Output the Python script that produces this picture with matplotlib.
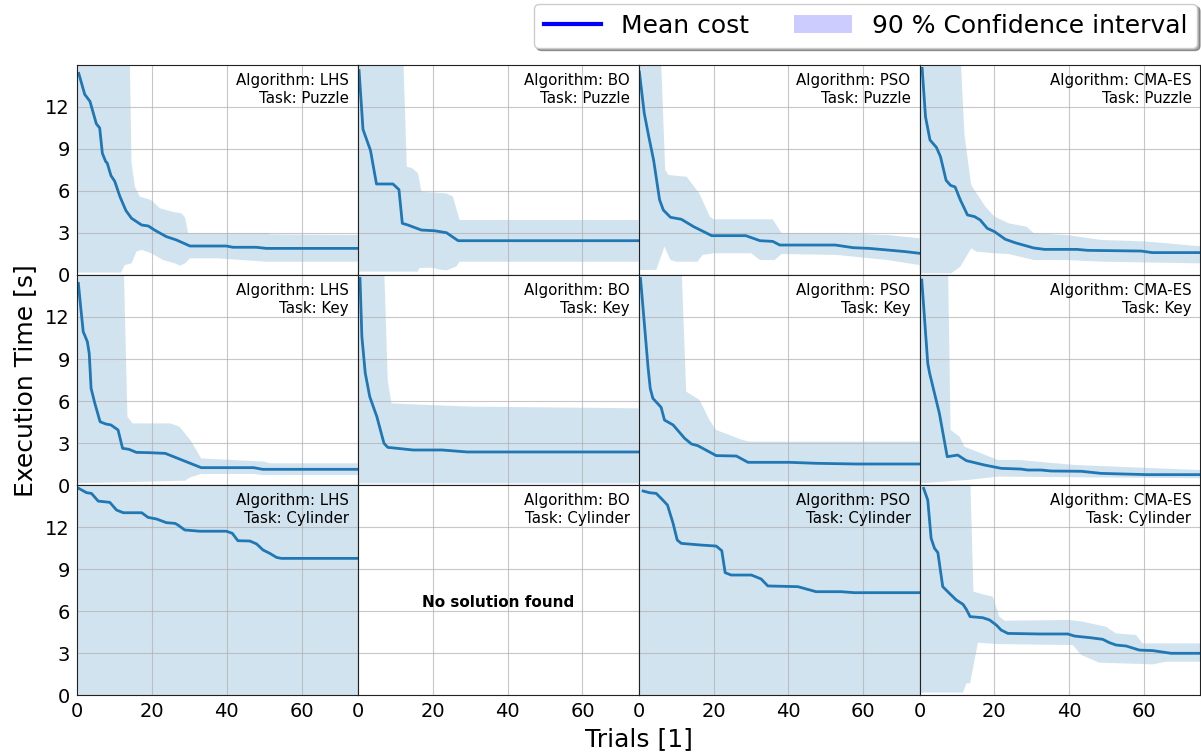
import matplotlib
matplotlib.use("Agg")
import matplotlib.pyplot as plt
from matplotlib.lines import Line2D
from matplotlib.patches import Patch
import numpy as np

# grid layout
algorithms = ["LHS", "BO", "PSO", "CMA-ES"]
tasks = ["Puzzle", "Key", "Cylinder"]
y_ticks = [0, 3, 6, 9, 12]
x_ticks = [0, 20, 40, 60]

# (trial, seconds); values above 15 are off the chart
lhs_puzzle_mean = [(0.5, 14.4), (2.1, 12.9), (3.5, 12.4), (5.2, 10.8), (6.1, 10.5), (6.8, 8.7), (7.7, 8.1),
                   (8.1, 8.0), (9.1, 7.1), (10.1, 6.7), (11.5, 5.6), (13.1, 4.6), (14.6, 4.05), (17.3, 3.57),
                   (19.1, 3.5), (20.8, 3.2), (23.9, 2.74), (26.6, 2.5), (30.2, 2.07), (39.9, 2.07),
                   (41.7, 1.98), (47.9, 1.98), (50.6, 1.9), (75, 1.9)]
lhs_puzzle_upper = [(0, 16), (14.1, 16), (14.6, 8.0), (15.5, 6.3), (16.8, 5.6), (19.8, 5.36), (22.2, 4.76),
                    (25.8, 4.5), (28, 4.4), (28.9, 4.1), (29.7, 2.98), (50.6, 3.0), (51.5, 2.9), (75, 2.86)]
lhs_puzzle_lower = [(0, 0.17), (11.8, 0.17), (12.8, 0.71), (14.6, 0.83), (15.9, 1.67), (17.3, 1.79),
                    (19.9, 1.55), (23, 1.07), (26.2, 0.83), (27.5, 0.67), (28.9, 0.83), (30.2, 1.19),
                    (37.4, 1.19), (50.6, 0.95), (75, 0.95)]

bo_puzzle_mean = [(0.35, 14.6), (1.4, 10.4), (3.4, 8.9), (5.0, 6.5), (9.4, 6.5), (11.0, 6.1), (11.9, 3.69),
                  (13.4, 3.57), (17.0, 3.21), (20.5, 3.16), (23.7, 3.02), (26.8, 2.45), (75, 2.45)]
bo_puzzle_upper = [(0, 16), (12.1, 16), (13.1, 7.74), (14.6, 7.62), (16.1, 7.26), (17.0, 5.95), (23.7, 5.83),
                   (25.4, 5.6), (27.2, 3.93), (75, 3.93)]
bo_puzzle_lower = [(0, 0.24), (16.0, 0.24), (16.5, 0.5), (20.1, 0.52), (21.5, 0.4), (23.7, 0.33),
                   (26.3, 0.6), (27.2, 0.95), (75, 0.95)]

pso_puzzle_mean = [(0.2, 14.5), (1.5, 11.55), (2.8, 9.76), (4.0, 8.2), (5.6, 5.36), (6.6, 4.64), (8.5, 4.12),
                   (11.4, 3.98), (14.7, 3.45), (19.5, 2.81), (28.6, 2.81), (32.4, 2.45), (35.8, 2.4),
                   (37.7, 2.14), (52.5, 2.14), (57.3, 1.95), (61.6, 1.9), (71.2, 1.67), (75, 1.55)]
pso_puzzle_upper = [(0, 16), (5.9, 16), (7.1, 7.5), (8.0, 7.14), (12.8, 7.02), (16.2, 5.83), (19.0, 4.17),
                    (20, 3.98), (35.8, 3.98), (38.2, 2.98), (53, 2.98), (66.4, 2.86), (75, 2.62)]
pso_puzzle_lower = [(0, 0.36), (4.7, 0.36), (6.9, 2.02), (8.5, 1.07), (10, 0.95), (15.7, 0.95), (17.1, 1.43),
                    (20, 1.55), (30.1, 1.55), (32.4, 1.07), (36.3, 1.07), (38.2, 1.5), (53, 1.43),
                    (66.4, 1.07), (75, 0.71)]

cma_puzzle_mean = [(0.7, 14.76), (1.6, 11.3), (2.8, 9.64), (4.5, 9.12), (5.6, 8.45), (7.1, 6.76), (8.3, 6.4),
                   (9.5, 6.29), (10.9, 5.36), (12.8, 4.29), (14.7, 4.17), (16.2, 3.93), (18.1, 3.33),
                   (20, 3.1), (22.9, 2.55), (25.7, 2.29), (30.5, 1.93), (33.4, 1.83), (42, 1.83),
                   (44.9, 1.76), (59.2, 1.71), (62.1, 1.6), (75, 1.6)]
cma_puzzle_upper = [(0, 16), (10.9, 16), (12.0, 10), (13.8, 6.43), (17.6, 4.88), (20, 4.17), (23.8, 3.69),
                    (28.6, 3.45), (30.5, 2.98), (39.1, 2.86), (48.7, 2.5), (60.2, 2.4), (75, 2.05)]
cma_puzzle_lower = [(0, 0.12), (8.5, 0.12), (10.9, 0.6), (13.8, 1.9), (15.2, 1.67), (20, 1.55), (23.8, 1.5),
                    (30.5, 1.07), (39.1, 1.07), (48.7, 0.95), (75, 0.83)]

lhs_key_mean = [(0.4, 14.4), (1.1, 12.5), (1.7, 10.95), (2.8, 10.24), (3.3, 9.4), (3.8, 6.9), (4.8, 5.83),
                (6.2, 4.52), (7.7, 4.36), (9.1, 4.29), (11.0, 3.93), (12.2, 2.62), (13.9, 2.55), (15.9, 2.33),
                (19.2, 2.31), (23.6, 2.26), (29.8, 1.6), (33.2, 1.24), (47.2, 1.24), (49.6, 1.12), (75, 1.12)]
lhs_key_upper = [(0, 16), (12.5, 16), (13.5, 4.88), (14.9, 4.4), (25, 4.4), (27.4, 4.17), (30.3, 3.21),
                 (33.2, 1.9), (50, 1.67), (51.5, 1.55), (75, 1.55)]
lhs_key_lower = [(0, 0.12), (19.7, 0.24), (28.9, 0.31), (30.3, 0.55), (33.2, 0.79), (47.2, 0.79),
                 (49.6, 0.71), (75, 0.71)]

bo_key_mean = [(0.6, 14.76), (1.1, 10.6), (2.0, 8.0), (3.2, 6.31), (5.1, 4.88), (7.0, 2.98), (8.0, 2.69),
               (14.8, 2.5), (22.5, 2.5), (29.2, 2.36), (75, 2.36)]
bo_key_upper = [(0, 16), (7.0, 16), (8.0, 7.5), (9.0, 5.83), (19.6, 5.71), (30.2, 5.6), (75, 5.48)]
bo_key_lower = [(0, 0.12), (75, 0.12)]

pso_key_mean = [(0.5, 14.76), (1.6, 11.3), (2.5, 8.45), (3.1, 6.9), (3.8, 6.19), (6.0, 5.55), (6.9, 4.64),
                (9.2, 4.29), (12.3, 3.33), (14.1, 2.93), (15.8, 2.81), (20.7, 2.1), (26.1, 2.07),
                (29.2, 1.62), (40.3, 1.62), (47.4, 1.55), (58.1, 1.5), (75, 1.5)]
pso_key_upper = [(0, 16), (11.4, 16), (12.7, 6.67), (16.3, 6.07), (18.9, 4.64), (20.7, 3.93), (27.8, 3.21),
                 (29.6, 3.1), (75, 3.1)]
pso_key_lower = [(0, 0.25), (75, 0.25)]

cma_key_mean = [(0.6, 14.64), (2.2, 8.69), (2.7, 7.98), (5.3, 5.12), (7.4, 2.02), (10.2, 2.14), (12.5, 1.74),
                (17.3, 1.43), (21.8, 1.19), (27.1, 1.14), (28.9, 1.07), (32.5, 1.07), (35.1, 1.0),
                (43.2, 0.98), (48.5, 0.83), (60.9, 0.74), (75, 0.74)]
cma_key_upper = [(0, 16), (7.6, 16), (8.3, 3.93), (10.7, 3.45), (12, 2.74), (16.5, 2.26), (20.9, 1.79),
                 (26.6, 1.79), (41.4, 1.43), (75, 1.07)]
cma_key_lower = [(0, 0.12), (12.9, 0.36), (20.9, 0.6), (75, 0.48)]

lhs_cyl_mean = [(0.5, 14.76), (2.6, 14.45), (3.9, 14.4), (5.7, 13.85), (8.8, 13.76), (10.6, 13.21),
                (12.4, 13.02), (17.3, 13.02), (19.0, 12.69), (21.3, 12.57), (23.9, 12.31), (26.2, 12.26),
                (27.0, 12.14), (28.8, 11.79), (32.8, 11.7), (39.9, 11.7), (41.5, 11.55), (43.0, 11.02),
                (46.2, 11.0), (48.0, 10.79), (49.7, 10.36), (51.5, 10.12), (53.3, 9.83), (54.6, 9.76),
                (75, 9.76)]
lhs_cyl_upper = [(0, 16), (75, 16)]
lhs_cyl_lower = [(0, 0), (75, 0)]

pso_cyl_mean = [(1.2, 14.57), (2.9, 14.45), (4.7, 14.4), (6.0, 14.05), (7.7, 13.57), (9.2, 12.26),
                (10.3, 11.07), (11.4, 10.83), (16.7, 10.71), (20.7, 10.64), (22.2, 10.31), (23.1, 8.74),
                (24.7, 8.57), (30.1, 8.57), (32.7, 8.29), (34.5, 7.79), (42.5, 7.74), (47.4, 7.38),
                (54.1, 7.38), (57.6, 7.31), (75, 7.31)]
pso_cyl_upper = [(0, 16), (75, 16)]
pso_cyl_lower = [(0, 0), (75, 0)]

cma_cyl_mean = [(1.1, 14.76), (2.2, 13.93), (3.1, 11.19), (4.0, 10.48), (4.9, 10.17), (6.2, 7.74), (8.0, 7.26),
                (9.8, 6.79), (11.6, 6.48), (12.5, 6.12), (13.5, 5.6), (16.9, 5.52), (18.7, 5.36), (20.5, 5.0),
                (21.8, 4.64), (23.6, 4.4), (32.0, 4.36), (39.6, 4.36), (41.4, 4.21), (45.4, 4.1),
                (48.9, 3.98), (50.7, 3.74), (52.5, 3.57), (55.2, 3.5), (58.7, 3.21), (62.3, 3.17),
                (67.2, 2.98), (75, 2.98)]
cma_cyl_upper = [(0, 16), (13.5, 16), (14.4, 7.38), (16.9, 7.2), (19.6, 7.02), (21.3, 5.6), (22.7, 5.31),
                 (40, 5.36), (43.6, 5.24), (49.8, 4.88), (52.5, 4.4), (57.8, 4.29), (59.6, 3.69), (75, 3.69)]
cma_cyl_lower = [(0, 0.17), (11.6, 0.17), (12.5, 0.83), (13.5, 0.83), (15.6, 3.74), (20.5, 3.64),
                 (40.9, 3.57), (43.2, 2.86), (48, 2.31), (62.3, 2.19), (65.8, 2.38), (75, 2.38)]

# row = task, column = algorithm; None means no solution
panels = [
    [(lhs_puzzle_mean, lhs_puzzle_upper, lhs_puzzle_lower),
     (bo_puzzle_mean, bo_puzzle_upper, bo_puzzle_lower),
     (pso_puzzle_mean, pso_puzzle_upper, pso_puzzle_lower),
     (cma_puzzle_mean, cma_puzzle_upper, cma_puzzle_lower)],
    [(lhs_key_mean, lhs_key_upper, lhs_key_lower),
     (bo_key_mean, bo_key_upper, bo_key_lower),
     (pso_key_mean, pso_key_upper, pso_key_lower),
     (cma_key_mean, cma_key_upper, cma_key_lower)],
    [(lhs_cyl_mean, lhs_cyl_upper, lhs_cyl_lower),
     None,
     (pso_cyl_mean, pso_cyl_upper, pso_cyl_lower),
     (cma_cyl_mean, cma_cyl_upper, cma_cyl_lower)],
]

fig, axes = plt.subplots(3, 4, figsize=(12.01, 7.53), dpi=100, sharex=True, sharey=True)
fig.subplots_adjust(left=0.064, right=0.9995, top=0.9137, bottom=0.077, wspace=0, hspace=0)

for r, task in enumerate(tasks):
    for c, alg in enumerate(algorithms):
        ax = axes[r, c]
        data = panels[r][c]
        if data is None:
            ax.text(0.5, 0.44, "No solution found", transform=ax.transAxes,
                    ha="center", va="center", fontsize=11, fontweight="bold")
        else:
            mean, upper, lower = data
            mx, my = np.array(mean).T
            ux, uy = np.array(upper).T
            lx, ly = np.array(lower).T
            ax.fill(np.concatenate([ux, lx[::-1]]), np.concatenate([uy, ly[::-1]]),
                    color="tab:blue", alpha=0.2, lw=0)
            ax.plot(mx, my, color="tab:blue", lw=2)
        ax.text(0.968, 0.96, f"Algorithm: {alg}\nTask: {task}", transform=ax.transAxes,
                ha="right", va="top", fontsize=10.8)
        ax.grid(True, color="#b0b0b0", alpha=0.7)
        ax.tick_params(length=0, labelsize=14, pad=5)
        for sp in ax.spines.values():
            sp.set_color("#222222")

axes[0, 0].set_xlim(0, 75)
axes[0, 0].set_ylim(0, 15)
axes[0, 0].set_xticks(x_ticks)
axes[0, 0].set_yticks(y_ticks)

fig.text(0.021, 0.495, "Execution Time [s]", rotation=90, ha="center", va="center", fontsize=18)
fig.text(0.532, 0.018, "Trials [1]", ha="center", va="center", fontsize=18)

handles = [Line2D([0], [0], color="blue", lw=3),
           Patch(facecolor="blue", alpha=0.2, lw=0)]
fig.legend(handles, ["Mean cost", "90 % Confidence interval"], loc="upper right",
           bbox_to_anchor=(1.0, 1.0), ncol=2, fontsize=18, shadow=True,
           borderaxespad=0.15, handlelength=2.3, columnspacing=1.8)

fig.savefig("out.png", dpi=100)
